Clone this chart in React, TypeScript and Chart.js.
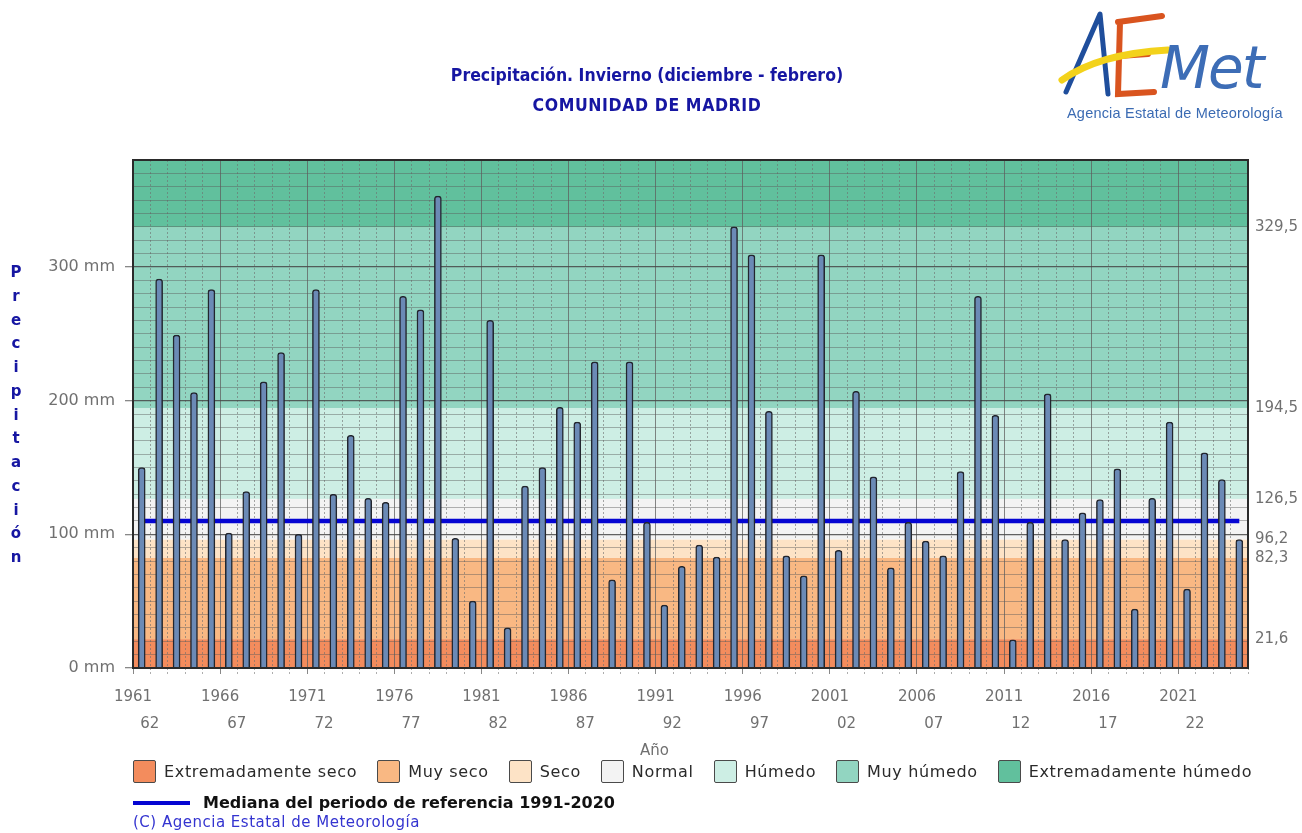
import React, { useEffect, useRef } from 'react';
import { Chart, registerables } from 'chart.js';

Chart.register(...registerables);

// ---- data ----
const SEASON_START = [
  1961, 1962, 1963, 1964, 1965, 1966, 1967, 1968, 1969, 1970,
  1971, 1972, 1973, 1974, 1975, 1976, 1977, 1978, 1979, 1980,
  1981, 1982, 1983, 1984, 1985, 1986, 1987, 1988, 1989, 1990,
  1991, 1992, 1993, 1994, 1995, 1996, 1997, 1998, 1999, 2000,
  2001, 2002, 2003, 2004, 2005, 2006, 2007, 2008, 2009, 2010,
  2011, 2012, 2013, 2014, 2015, 2016, 2017, 2018, 2019, 2020,
  2021, 2022, 2023, 2024,
];

const PRECIP_MM = [
  150, 291, 249, 206, 283, 101, 132, 214, 236, 100,
  283, 130, 174, 127, 124, 278, 268, 353, 97, 50,
  260, 30, 136, 150, 195, 184, 229, 66, 229, 109,
  47, 76, 92, 83, 330, 309, 192, 84, 69, 309,
  88, 207, 143, 75, 109, 95, 84, 147, 278, 189,
  21, 109, 205, 96, 116, 126, 149, 44, 127, 184,
  59, 161, 141, 96,
];

const MEDIAN_MM = 110;

const X_TICK_TOP = ['1961', '1966', '1971', '1976', '1981', '1986', '1991', '1996', '2001', '2006', '2011', '2016', '2021'];
const X_TICK_BOTTOM = ['62', '67', '72', '77', '82', '87', '92', '97', '02', '07', '12', '17', '22'];

const CLASS_NAMES = ['Extremadamente seco', 'Muy seco', 'Seco', 'Normal', 'Húmedo', 'Muy húmedo', 'Extremadamente húmedo'];
const CLASS_COLORS = ['#f38c5d', '#f9b883', '#fde3c6', '#f3f3f3', '#cdeee4', '#92d5c1', '#61c09d'];
const CLASS_THRESHOLDS = [21.6, 82.3, 96.2, 126.5, 194.5, 329.5];

const Y_MIN = 0;
const Y_MAX = 380;

const FONT = "'DejaVu Sans', 'Liberation Sans', sans-serif";
const TICK_GRAY = '#707070';
const TITLE_BLUE = '#1616a2';

const bandsPlugin = {
  id: 'bands',
  beforeDraw(chart: any) {
    const { ctx, chartArea } = chart;
    const y = chart.scales.y;
    const bounds = [Y_MIN, ...CLASS_THRESHOLDS, Y_MAX];
    ctx.save();
    for (let i = 0; i < CLASS_COLORS.length; i++) {
      const top = y.getPixelForValue(bounds[i + 1]);
      const bottom = y.getPixelForValue(bounds[i]);
      ctx.fillStyle = CLASS_COLORS[i];
      ctx.fillRect(chartArea.left, top, chartArea.right - chartArea.left, bottom - top);
    }
    ctx.restore();
  },
  afterDatasetsDraw(chart: any) {
    const { ctx, chartArea } = chart;
    ctx.save();
    ctx.strokeStyle = '#2a2a2a';
    ctx.lineWidth = 2;
    ctx.strokeRect(chartArea.left, chartArea.top, chartArea.right - chartArea.left, chartArea.bottom - chartArea.top);
    ctx.restore();
  },
};

function Logo() {
  return (
    <svg width={252} height={130} style={{ position: 'absolute', left: 1050, top: 0 }}>
      <path d="M16 92 L50 14 L58 94" fill="none" stroke="#1f4e9c" strokeWidth={5} strokeLinecap="round" strokeLinejoin="round" />
      <path d="M70 22 L68 94 L104 92 M68 22 L112 16 M69 56 L98 54" fill="none" stroke="#d9541f" strokeWidth={6} strokeLinecap="round" />
      <path d="M12 80 C 40 60, 80 52, 118 50" fill="none" stroke="#f3d21b" strokeWidth={7} strokeLinecap="round" />
      <text x={110} y={88} fontFamily="'DejaVu Sans', sans-serif" fontStyle="italic" fontSize={58} fill="#3d6db6" letterSpacing={-2}>Met</text>
      <text x={17} y={118} fontFamily="'Liberation Sans', Arial, sans-serif" fontSize={14.5} letterSpacing={0.2} fill="#3b6bb3">Agencia Estatal de Meteorología</text>
    </svg>
  );
}

export default function App() {
  const canvasRef = useRef<HTMLCanvasElement | null>(null);

  useEffect(() => {
    if (!canvasRef.current) return;
    const labels = SEASON_START.map((s) => String(s));
    const chart = new Chart(canvasRef.current, {
      type: 'bar',
      data: {
        labels,
        datasets: [
          {
            type: 'bar',
            label: 'Precipitación',
            data: PRECIP_MM,
            backgroundColor: '#6b8ab6',
            borderColor: '#23262e',
            borderWidth: 1.5,
            barThickness: 7,
            borderRadius: { topLeft: 3, topRight: 3, bottomLeft: 0, bottomRight: 0 },
            borderSkipped: 'bottom',
            order: 1,
            yAxisID: 'y',
          } as any,
          {
            type: 'line',
            label: 'Mediana',
            data: SEASON_START.map(() => MEDIAN_MM),
            borderColor: '#0505d2',
            borderWidth: 4.5,
            pointRadius: 0,
            order: 2,
            yAxisID: 'y',
          } as any,
        ],
      },
      options: {
        responsive: false,
        animation: false,
        devicePixelRatio: 1,
        layout: { padding: { top: 160, left: 0, right: 0, bottom: 0 } },
        plugins: {
          legend: { display: false },
          tooltip: { enabled: false },
          title: { display: false },
        },
        scales: {
          x: {
            offset: true,
            border: {
              display: false,
              dash: (ctx: any) => (ctx.index % 5 === 0 ? [] : [2, 2]),
            } as any,
            grid: {
              offset: true,
              color: (ctx: any) => (ctx.index % 5 === 0 ? 'rgba(95,95,95,0.75)' : 'rgba(110,110,110,0.6)'),
              lineWidth: 1,
              tickLength: 6,
              tickColor: (ctx: any) => (ctx.index % 5 === 0 ? '#888' : 'rgba(140,140,140,0.7)'),
              tickBorderDash: (ctx: any) => (ctx.index % 5 === 0 ? [] : [2, 2]),
            } as any,
            ticks: {
              autoSkip: false,
              maxRotation: 0,
              minRotation: 0,
              padding: 10,
              labelOffset: -8.7,
              color: TICK_GRAY,
              font: { family: FONT, size: 15, lineHeight: 1.8 },
              callback: (_v: any, index: number) =>
                index % 5 === 0
                  ? [X_TICK_TOP[index / 5], '\u2007\u2007\u2007 ' + X_TICK_BOTTOM[index / 5]]
                  : '',
            },
            afterFit: (scale: any) => {
              scale.height = 165;
            },
          },
          y: {
            position: 'left',
            min: Y_MIN,
            max: Y_MAX,
            border: { display: false },
            grid: {
              color: (ctx: any) => (ctx.tick && ctx.tick.value % 100 === 0 ? 'rgba(70,70,70,0.85)' : 'rgba(90,90,90,0.45)'),
              lineWidth: (ctx: any) => (ctx.tick && ctx.tick.value % 100 === 0 ? 1.3 : 1),
              tickLength: 8,
              tickColor: (ctx: any) => (ctx.tick && ctx.tick.value % 100 === 0 ? '#888' : 'rgba(0,0,0,0)'),
            },
            ticks: {
              stepSize: 10,
              autoSkip: false,
              padding: 10,
              color: TICK_GRAY,
              font: { family: FONT, size: 16 },
              callback: (v: any) => (Number(v) % 100 === 0 ? `${v} mm` : ''),
            },
            afterFit: (scale: any) => {
              scale.width = 133;
            },
          },
          yRight: {
            position: 'right',
            min: Y_MIN,
            max: Y_MAX,
            border: { display: false },
            grid: { display: false, drawTicks: false },
            ticks: {
              autoSkip: false,
              padding: 7,
              color: TICK_GRAY,
              font: { family: FONT, size: 15 },
              callback: (v: any) => String(v).replace('.', ','),
            },
            afterBuildTicks: (scale: any) => {
              scale.ticks = CLASS_THRESHOLDS.map((v) => ({ value: v }));
            },
            afterFit: (scale: any) => {
              scale.width = 54;
            },
          },
        },
      } as any,
      plugins: [bandsPlugin],
    });
    return () => chart.destroy();
  }, []);

  const yTitle = 'Precipitación'.split('');

  return (
    <div style={{ position: 'absolute', left: 0, top: 0, width: 1302, height: 833, background: '#fff', overflow: 'hidden', fontFamily: FONT }}>
      <canvas ref={canvasRef} width={1302} height={833} style={{ position: 'absolute', left: 0, top: 0, width: 1302, height: 833 }} />
      <div style={{ position: 'absolute', left: 0, width: 1302, top: 60, textAlign: 'center', color: TITLE_BLUE, fontWeight: 'bold', fontFamily: "'DejaVu Sans Condensed', 'DejaVu Sans', sans-serif", fontSize: 17.5, lineHeight: '30px' }}>
        <div style={{ paddingRight: 8 }}>Precipitación. Invierno (diciembre - febrero)</div>
        <div style={{ letterSpacing: 0.6, paddingRight: 8 }}>COMUNIDAD DE MADRID</div>
      </div>
      <Logo />
      <div style={{ position: 'absolute', left: 5, top: 261, width: 22, textAlign: 'center', color: TITLE_BLUE, fontWeight: 'bold', fontSize: 15, lineHeight: '23.75px' }}>
        {yTitle.map((c, i) => (
          <div key={i}>{c}</div>
        ))}
      </div>
      <div style={{ position: 'absolute', left: 640, top: 741, color: TICK_GRAY, fontSize: 15 }}>Año</div>
      <div style={{ position: 'absolute', left: 133, top: 760, display: 'flex', alignItems: 'center', gap: 20, fontSize: 16, color: '#2a2a2a', letterSpacing: 0.65 }}>
        {CLASS_NAMES.map((name, i) => (
          <div key={name} style={{ display: 'flex', alignItems: 'center', gap: 8 }}>
            <div style={{ width: 23, height: 23, background: CLASS_COLORS[i], border: '1.5px solid #4a4a4a', borderRadius: 2, boxSizing: 'border-box' }} />
            <span>{name}</span>
          </div>
        ))}
      </div>
      <div style={{ position: 'absolute', left: 133, top: 793, display: 'flex', alignItems: 'center' }}>
        <div style={{ width: 57, height: 4, background: '#0505d2' }} />
        <span style={{ marginLeft: 13, fontWeight: 'bold', fontSize: 16, color: '#111', lineHeight: '20px' }}>Mediana del periodo de referencia 1991-2020</span>
      </div>
      <div style={{ position: 'absolute', left: 133, top: 813, fontSize: 15, letterSpacing: 0.5, color: '#3434d0', lineHeight: '18px' }}>
        (C) Agencia Estatal de Meteorología
      </div>
    </div>
  );
}
